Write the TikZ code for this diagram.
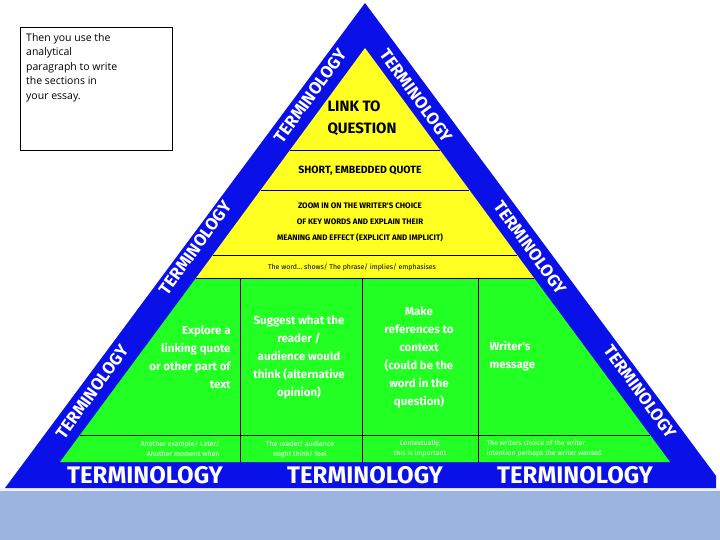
\documentclass[tikz,border=0pt]{standalone}
\usepackage{fontspec}
\setmainfont{Open Sans}
\newfontfamily\pyr{Fira Sans}
\definecolor{tblue}{HTML}{0A10E8}
\definecolor{tyel}{HTML}{FFFF22}
\definecolor{tgreen}{HTML}{22FF22}
\definecolor{bgband}{HTML}{9BB5E0}
\begin{document}
\begin{tikzpicture}[x=1pt,y=-1pt,
  term/.style={text=white,inner sep=0,font=\pyr\bfseries\fontsize{17}{17}\selectfont},
  termb/.style={text=white,font=\pyr\bfseries\fontsize{24}{24}\selectfont},
  hd/.style={font=\pyr\bfseries\fontsize{10}{13}\selectfont,align=center},
  gt/.style={font=\pyr\bfseries\fontsize{11.5}{18}\selectfont,text=white,align=center},
  sm/.style={font=\pyr\fontsize{7}{10}\selectfont,text=white,align=center}]
\useasboundingbox (0,0) rectangle (720,540);
\fill[bgband] (0,490) rectangle (720,540);
\fill[white!85!bgband] (0,488) rectangle (720,491);
\begin{scope}
\clip (0,0) rectangle (716,488);
\fill[tblue] (365,3) -- (725,488) -- (5,488) -- cycle;
\end{scope}
\fill[tyel] (365,48) -- (534,278) -- (196,278) -- cycle;
\fill[tgreen] (196,278) -- (534,278) -- (670,462) -- (60,462) -- cycle;
\draw[black,thick] (290,150) -- (440,150);
\draw[black,thick] (261,190) -- (469,190);
\draw[black,thick] (213,255) -- (517,255);
\draw[black,thick] (196,278) -- (534,278);
\draw[black,thick] (80,435) -- (650,435);
\draw[black,thick] (240,278) -- (240,462);
\draw[black,thick] (362,278) -- (362,462);
\draw[black,thick] (478,278) -- (478,462);
\node[hd,font=\pyr\bfseries\fontsize{15}{22}\selectfont,align=left] (lq) at (362,118) {LINK TO\\QUESTION};
\node[hd,font=\pyr\bfseries\fontsize{10.5}{12}\selectfont] (sq) at (360,171) {SHORT, EMBEDDED QUOTE};
\node[hd,font=\pyr\bfseries\fontsize{8}{16}\selectfont] (zm) at (360,222) {ZOOM IN ON THE WRITER'S CHOICE\\OF KEY WORDS AND EXPLAIN THEIR\\MEANING AND EFFECT (EXPLICIT AND IMPLICIT)};
\node[font=\pyr\fontsize{7}{9}\selectfont] (tw) at (352,267) {The word\dots\ shows/ The phrase/ implies/ emphasises};
\node[gt,align=right] (g1) at (190,357) {Explore a\\linking quote\\or other part of\\text};
\node[gt] (g2) at (299,357) {Suggest what the\\reader /\\audience would\\think (alternative\\opinion)};
\node[gt] (g3) at (419,357) {Make\\references to\\context\\(could be the\\word in the\\question)};
\node[gt,align=left,anchor=west] (g4) at (486,356) {Writer's\\message};
\node[sm,align=right] (s1) at (180,449) {Another example/ Later/\\Another moment when};
\node[sm] (s2) at (300,449) {The reader/ audience\\might think/ feel};
\node[sm] (s3) at (420,449) {Contextually,\\this is important};
\node[sm,align=left,anchor=west] (s4) at (483,449) {The writers choice of the writer\\intention perhaps the writer wanted};
\node[termb] (b1) at (145,475) {TERMINOLOGY};
\node[termb] (b2) at (365,475) {TERMINOLOGY};
\node[termb] (b3) at (575,475) {TERMINOLOGY};
\node[term,rotate=54] (l1) at (92,392) {TERMINOLOGY};
\node[term,rotate=54] (l2) at (195,248) {TERMINOLOGY};
\node[term,rotate=54] (l3) at (310,96) {TERMINOLOGY};
\node[term,rotate=-54] (r1) at (416,96) {TERMINOLOGY};
\node[term,rotate=-54] (r2) at (530,248) {TERMINOLOGY};
\node[term,rotate=-54] (r3) at (640,392) {TERMINOLOGY};
\node[draw=black,fill=white,minimum width=152,minimum height=123,anchor=north west] (box) at (20,27) {};
\node[anchor=north west,align=left,font=\fontsize{10.5}{14.5}\selectfont,inner sep=0] (bt) at (26,33) {Then you use the\\analytical\\paragraph to write\\the sections in\\your essay.};
\end{tikzpicture}
\end{document}
